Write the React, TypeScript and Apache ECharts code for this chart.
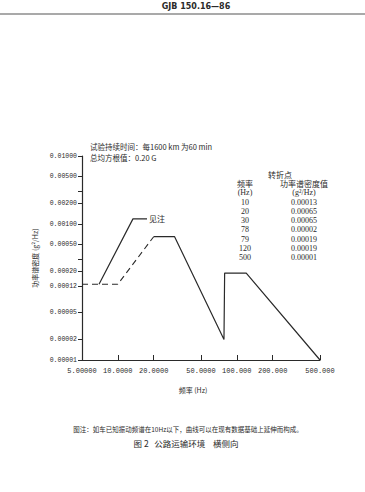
import React, { useEffect, useRef } from "react";
import * as echarts from "echarts";

// Break points of the defined spectrum (table + curve)
const breakFreq = [10, 20, 30, 78, 79, 120, 500];
const breakPsd = [0.00013, 0.00065, 0.00065, 0.00002, 0.00019, 0.00019, 0.00001];
const breakPsdText = ["0.00013", "0.00065", "0.00065", "0.00002", "0.00019", "0.00019", "0.00001"];

// Dashed extension below 20 Hz
const dashedFreq = [5, 10, 20];
const dashedPsd = [0.00013, 0.00013, 0.00065];

// "见注" note curve
const noteFreq = [6.95, 13.4, 17.6];
const notePsd = [0.00013, 0.00119, 0.00119];

// Axis ticks
const xTicks = [5, 10, 20, 50, 100, 200, 500];
const yLabelTicks = [0.01, 0.005, 0.002, 0.001, 0.0005, 0.0002, 0.00012, 0.00005, 0.00002, 0.00001];
const yMinorTicks = [0.003, 0.0003];

const INK = "#2a2a2a";
const CJK = "'Noto Sans CJK SC', sans-serif";
const MONO = "'Liberation Mono', monospace";
const SERIF = "'Liberation Serif', serif";

export default function App() {
  const ref = useRef<HTMLDivElement>(null);
  useEffect(() => {
    document.body.style.margin = "0";
    const chart = echarts.init(ref.current!, undefined, { renderer: "svg" });

    const mainData = breakFreq.slice(1).map((f, i) => [f, breakPsd[i + 1]]);
    const dashData = dashedFreq.map((f, i) => [f, dashedPsd[i]]);
    const noteData = noteFreq.map((f, i) => [f, notePsd[i]]);

    const tableX1 = 245;
    const tableX2 = 304;
    const rowY0 = 202;
    const rowStep = 9.25;

    const t = (text: string, x: number, y: number, font: string, align = "left") => ({
      type: "text",
      x,
      y,
      style: { text, font, fill: INK, align, verticalAlign: "middle", textAlign: align, textVerticalAlign: "middle" },
    });

    const tableTexts: any[] = [];
    breakFreq.forEach((f, i) => {
      tableTexts.push(t(String(f), tableX1, rowY0 + i * rowStep, `8px ${SERIF}`, "center"));
      tableTexts.push(t(breakPsdText[i], tableX2, rowY0 + i * rowStep, `8px ${SERIF}`, "center"));
    });

    chart.setOption({
      animation: false,
      backgroundColor: "#ffffff",
      grid: { left: 82, right: 45, top: 156, bottom: 132, containLabel: false },
      xAxis: {
        type: "log",
        logBase: 10,
        min: 5,
        max: 500,
        name: "频率 (Hz)",
        nameLocation: "middle",
        nameGap: 26,
        nameTextStyle: { fontFamily: CJK, fontSize: 7, color: INK, padding: [0, 16, 0, 0] },
        axisLine: { show: true, lineStyle: { color: INK, width: 1.2 } },
        axisTick: { show: true, inside: true, length: 5, customValues: xTicks, lineStyle: { color: INK } },
        axisLabel: {
          customValues: xTicks,
          formatter: (v: number) => Number(Number(v).toPrecision(8)).toPrecision(6),
          fontFamily: MONO,
          fontSize: 7,
          color: INK,
          margin: 7,
          showMinLabel: true,
          showMaxLabel: true,
        },
        splitLine: { show: false },
        minorTick: { show: false },
      },
      yAxis: {
        type: "log",
        logBase: 10,
        min: 0.00001,
        max: 0.01,
        name: "功率谱密度 (g²/Hz)",
        nameLocation: "middle",
        nameGap: 38,
        nameRotate: 90,
        nameTextStyle: { fontFamily: CJK, fontSize: 7, color: INK },
        axisLine: { show: true, lineStyle: { color: INK, width: 1.2 } },
        axisTick: { show: true, inside: false, length: 4, customValues: [...yLabelTicks, ...yMinorTicks], lineStyle: { color: INK } },
        axisLabel: {
          customValues: yLabelTicks,
          formatter: (v: number) => Number(Number(v).toPrecision(8)).toFixed(5),
          fontFamily: MONO,
          fontSize: 6.5,
          color: INK,
          margin: 5,
          showMinLabel: true,
          showMaxLabel: true,
        },
        splitLine: { show: false },
      },
      series: [
        {
          type: "line",
          data: dashData,
          symbol: "none",
          lineStyle: { color: INK, width: 1.1, type: [6, 4] },
          silent: true,
        },
        {
          type: "line",
          data: mainData,
          symbol: "none",
          lineStyle: { color: INK, width: 1.2 },
          silent: true,
        },
        {
          type: "line",
          data: noteData,
          symbol: "none",
          lineStyle: { color: INK, width: 1.2 },
          silent: true,
          endLabel: {
            show: true,
            formatter: "见注",
            distance: 2,
            fontFamily: CJK,
            fontSize: 8,
            color: INK,
          },
        },
      ],
      graphic: [
        t("GJB 150.16—86", 196, 6, `bold 8px 'DejaVu Sans', sans-serif`, "center"),
        { type: "line", shape: { x1: 0, y1: 14, x2: 365, y2: 14 }, style: { stroke: "#555", lineWidth: 1.2 } },
        t("试验持续时间：每1600 km 为60 min", 90, 146, `7.5px ${CJK}`),
        t("总均方根值：0.20 G", 90, 157, `7.5px ${CJK}`),
        t("转折点", 280, 174, `8px ${CJK}`, "center"),
        t("频率", tableX1, 183, `8px ${CJK}`, "center"),
        t("功率谱密度值", tableX2, 183, `8px ${CJK}`, "center"),
        t("(Hz)", tableX1, 192.5, `8px ${SERIF}`, "center"),
        t("(g²/Hz)", tableX2, 192.5, `8px ${SERIF}`, "center"),
        ...tableTexts,
        t("图注：如车已知振动频谱在10Hz以下，曲线可以在现有数据基础上延伸而构成。", 188, 429, `6.5px ${CJK}`, "center"),
        t("图 2   公路运输环境    横侧向", 186, 443, `8.5px ${CJK}`, "center"),
      ],
    });
    return () => chart.dispose();
  }, []);
  return <div ref={ref} style={{ position: "fixed", left: 0, top: 0, width: 365, height: 492 }} />;
}
